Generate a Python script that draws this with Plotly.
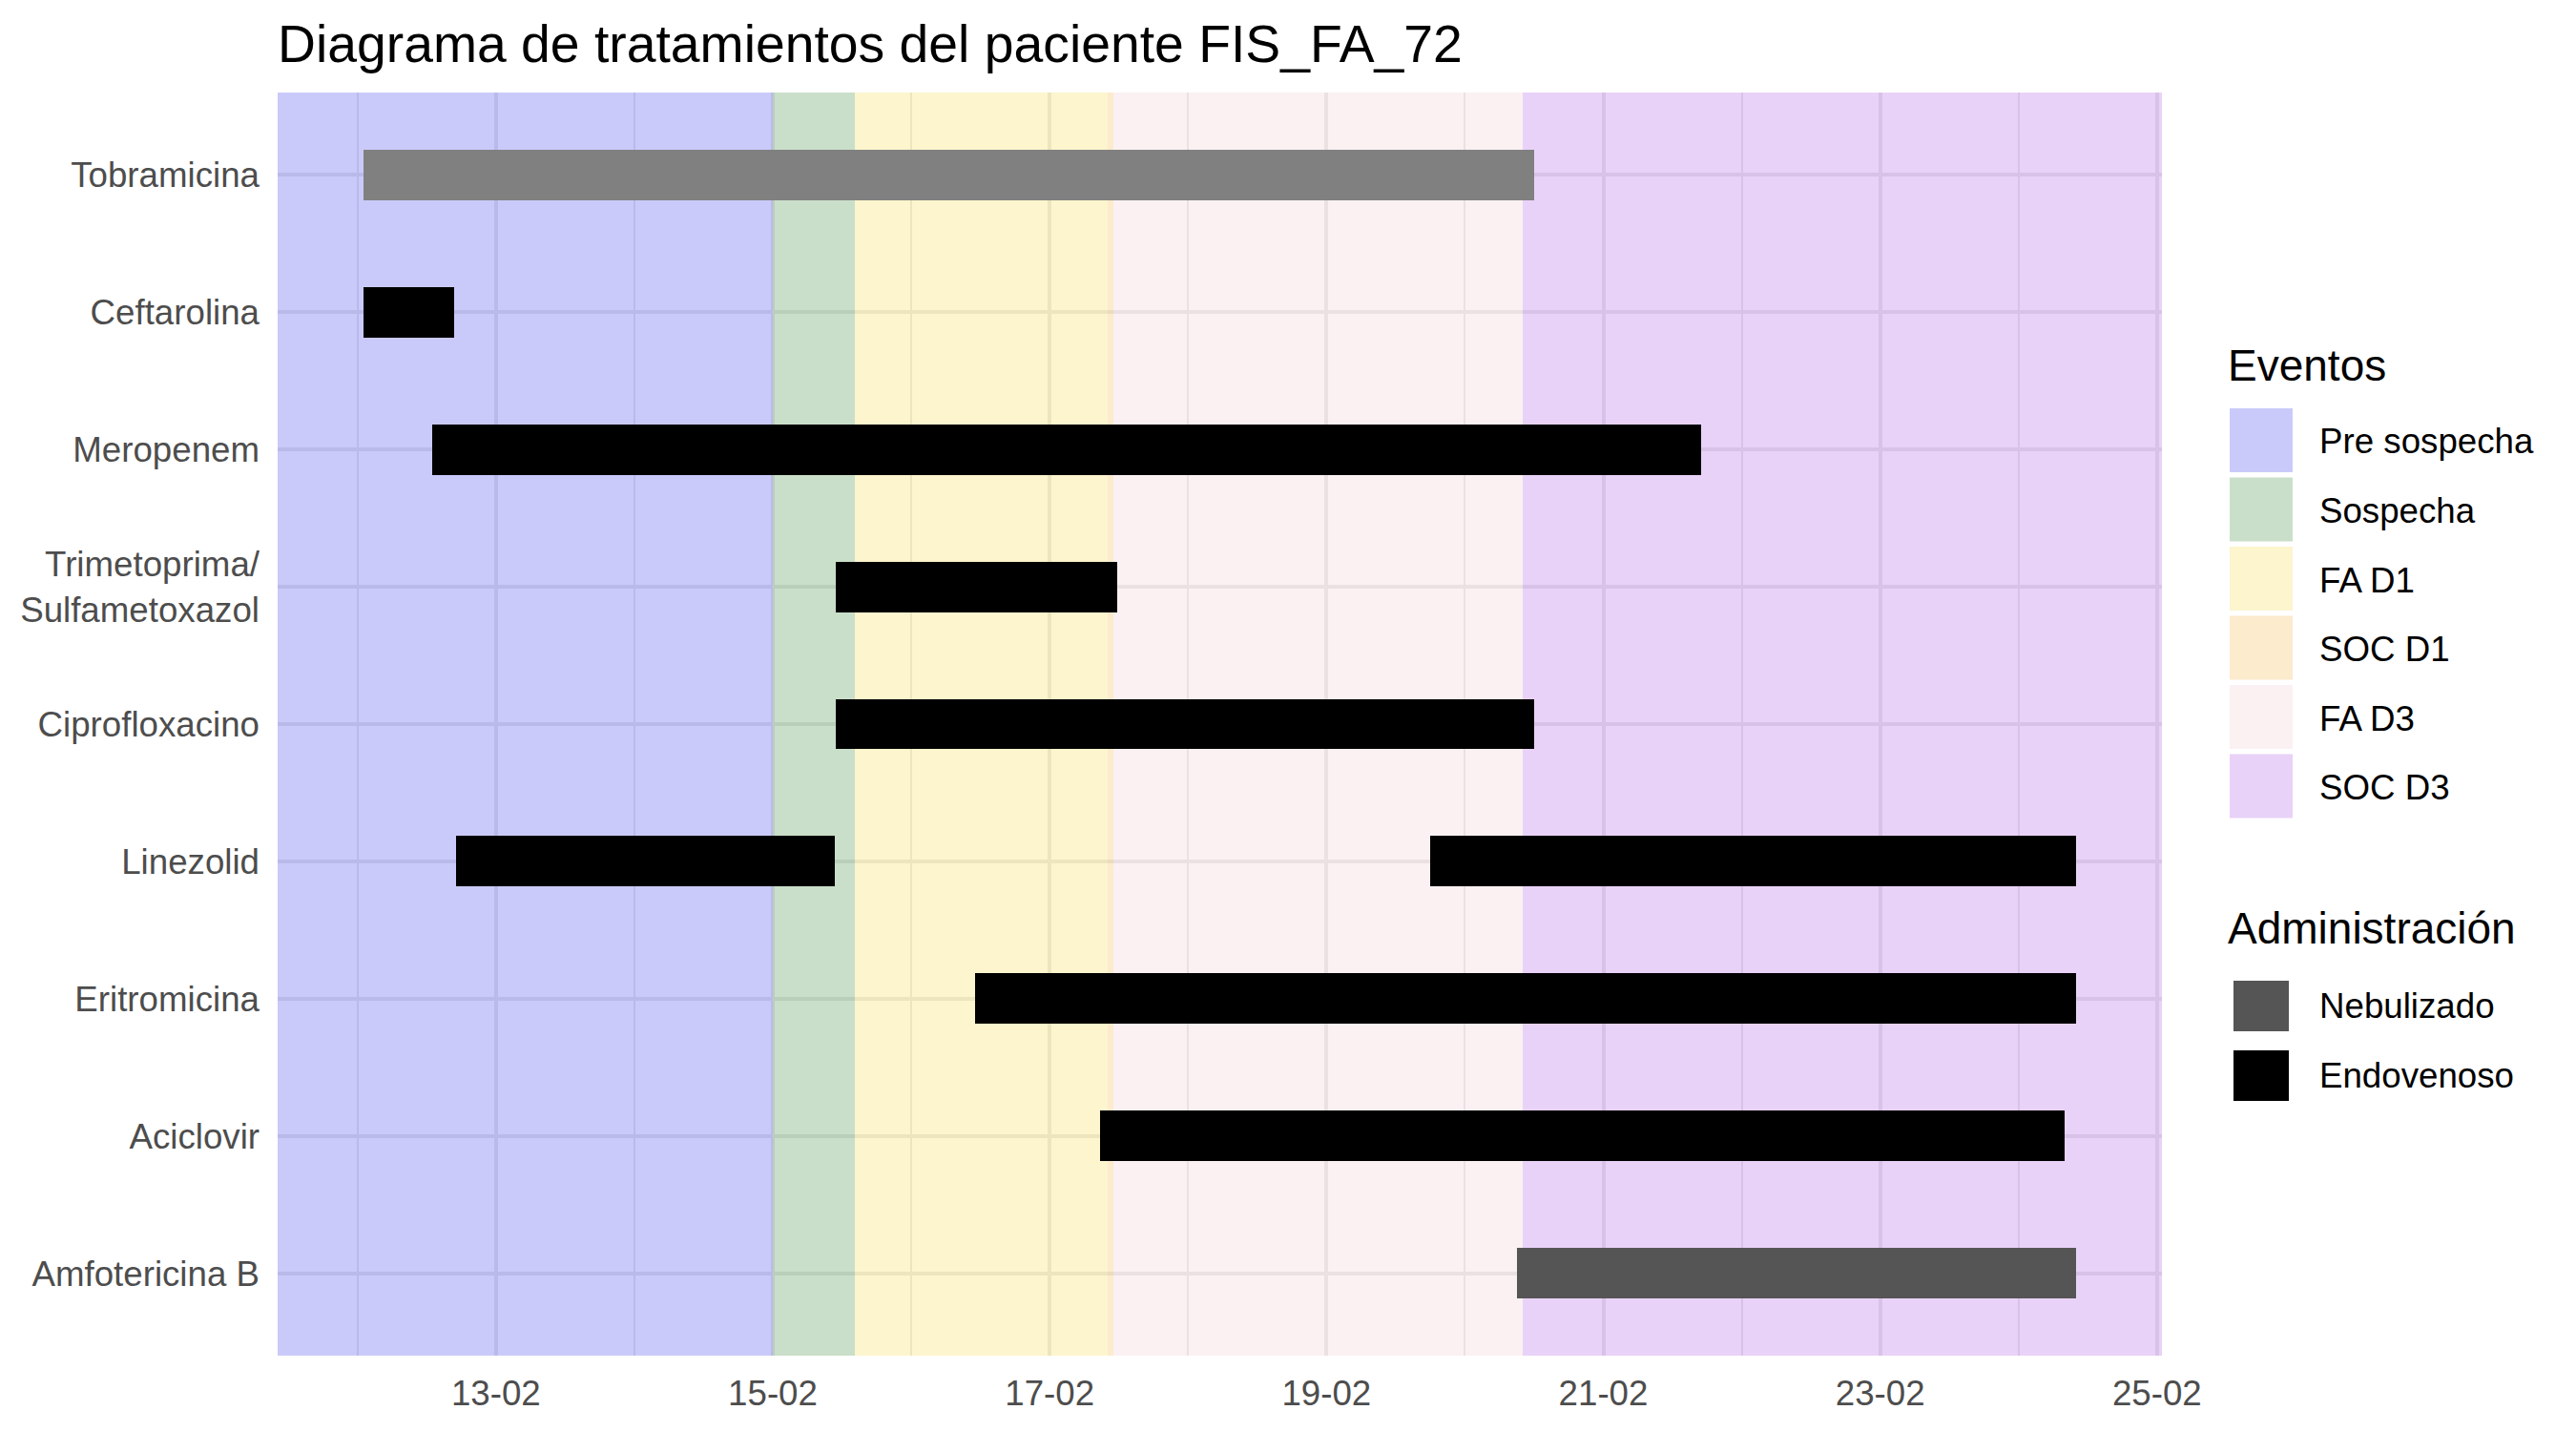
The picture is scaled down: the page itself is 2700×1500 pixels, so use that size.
import pandas as pd
import plotly.graph_objects as go

# ---------------- data ----------------
title_text = "Diagrama de tratamientos del paciente FIS_FA_72"

drugs = ["Tobramicina", "Ceftarolina", "Meropenem", "Trimetoprima/<br>Sulfametoxazol",
         "Ciprofloxacino", "Linezolid", "Eritromicina", "Aciclovir", "Amfotericina B"]

tr_drug = ["Tobramicina", "Ceftarolina", "Meropenem", "Trimetoprima/<br>Sulfametoxazol",
           "Ciprofloxacino", "Linezolid", "Linezolid", "Eritromicina", "Aciclovir", "Amfotericina B"]
tr_start = ["2024-02-12 01:00", "2024-02-12 01:00", "2024-02-12 13:00", "2024-02-15 11:00",
            "2024-02-15 11:00", "2024-02-12 17:00", "2024-02-19 18:00", "2024-02-16 11:00",
            "2024-02-17 08:45", "2024-02-20 09:00"]
tr_end = ["2024-02-20 12:00", "2024-02-12 16:45", "2024-02-21 17:00", "2024-02-17 11:45",
          "2024-02-20 12:00", "2024-02-15 10:45", "2024-02-24 10:00", "2024-02-24 10:00",
          "2024-02-24 08:00", "2024-02-24 10:00"]
tr_route = ["Nebulizado", "Endovenoso", "Endovenoso", "Endovenoso", "Endovenoso",
            "Endovenoso", "Endovenoso", "Endovenoso", "Endovenoso", "Nebulizado"]

route_names = ["Nebulizado", "Endovenoso"]
route_colors = ["#555555", "#000000"]
bar_color_override = {"Tobramicina": "#808080"}

event_names = ["Pre sospecha", "Sospecha", "FA D1", "SOC D1", "FA D3", "SOC D3"]
event_start = [None, "2024-02-15 00:00", "2024-02-15 14:15", "2024-02-17 10:00",
               "2024-02-17 11:00", "2024-02-20 10:00"]
event_end = ["2024-02-15 00:00", "2024-02-15 14:15", "2024-02-17 10:00", "2024-02-17 11:00",
             "2024-02-20 10:00", None]
event_colors = ["rgba(14,14,233,0.22)", "rgba(14,110,14,0.22)", "rgba(241,209,27,0.22)",
                "rgba(241,164,27,0.22)", "rgba(237,191,196,0.22)", "rgba(155,50,223,0.22)"]

x_tick_dates = ["2024-02-13", "2024-02-15", "2024-02-17", "2024-02-19",
                "2024-02-21", "2024-02-23", "2024-02-25"]
x_tick_labels = ["13-02", "15-02", "17-02", "19-02", "21-02", "23-02", "25-02"]
x_minor_dates = ["2024-02-12", "2024-02-14", "2024-02-16", "2024-02-18",
                 "2024-02-20", "2024-02-22", "2024-02-24"]

# ---------------- layout constants ----------------
FONT = "Liberation Sans, Arial, sans-serif"
W, H = 2700, 1500
ML, MR, MT, MB = 291, 434, 97, 79
PW, PH = W - ML - MR, H - MT - MB
AX_SIZE = 36.7
LEG_TITLE_SIZE = 46
TITLE_SIZE = 55.3
GRID = "#EBEBEB"


def fmt(t):
    return t.strftime("%Y-%m-%d %H:%M:%S")


starts = pd.to_datetime(pd.Series(tr_start))
ends = pd.to_datetime(pd.Series(tr_end))
t0, t1 = starts.min(), ends.max()
pad = (t1 - t0) * 0.05
x_lo, x_hi = t0 - pad, t1 + pad

fig = go.Figure()

# background event bands, spanning all categories
mid_cat = drugs[len(drugs) // 2]
band = (len(drugs) - 1) + 2 * 0.6
for name, s, e, c in zip(event_names, event_start, event_end, event_colors):
    s_t = pd.Timestamp(s) if s else x_lo
    e_t = pd.Timestamp(e) if e else x_hi
    fig.add_trace(go.Bar(
        orientation="h", y=[mid_cat], base=[fmt(s_t)],
        x=[(e_t - s_t).total_seconds() * 1000], width=[band],
        marker=dict(color=c, line=dict(width=0)), name=name,
        showlegend=False, hoverinfo="skip"))

# treatment bars
route_col = dict(zip(route_names, route_colors))
bar_cols = [bar_color_override.get(d, route_col[r]) for d, r in zip(tr_drug, tr_route)]
fig.add_trace(go.Bar(
    orientation="h", y=tr_drug, base=[fmt(t) for t in starts],
    x=[(e - s).total_seconds() * 1000 for s, e in zip(starts, ends)],
    width=[0.368] * len(tr_drug),
    marker=dict(color=bar_cols, line=dict(width=0)),
    showlegend=False, hoverinfo="skip"))


# ---------------- manual legend (ggplot-style keys) ----------------
def px_x(p):
    return (p - ML) / PW


def px_y(p):
    return (H - MB - p) / PH


shapes = []
annotations = []

annotations.append(dict(x=px_x(2333), y=px_y(383), xref="paper", yref="paper",
                        text="Eventos", showarrow=False, xanchor="left", yanchor="middle",
                        font=dict(size=LEG_TITLE_SIZE, color="black", family=FONT)))
for i, (name, c) in enumerate(zip(event_names, event_colors)):
    top = 428 + 72.5 * i
    shapes.append(dict(type="rect", xref="paper", yref="paper",
                       x0=px_x(2337), x1=px_x(2403), y0=px_y(top + 67), y1=px_y(top),
                       fillcolor=c, line=dict(width=0), layer="above"))
    annotations.append(dict(x=px_x(2429), y=px_y(top + 35), xref="paper", yref="paper",
                            text=name, showarrow=False, xanchor="left", yanchor="middle",
                            font=dict(size=AX_SIZE, color="black", family=FONT)))

annotations.append(dict(x=px_x(2333), y=px_y(973), xref="paper", yref="paper",
                        text="Administración", showarrow=False, xanchor="left", yanchor="middle",
                        font=dict(size=LEG_TITLE_SIZE, color="black", family=FONT)))
for i, (name, c) in enumerate(zip(route_names, route_colors)):
    top = 1028 + 73 * i
    shapes.append(dict(type="rect", xref="paper", yref="paper",
                       x0=px_x(2341), x1=px_x(2399), y0=px_y(top + 53), y1=px_y(top),
                       fillcolor=c, line=dict(width=0), layer="above"))
    annotations.append(dict(x=px_x(2429), y=px_y(top + 26), xref="paper", yref="paper",
                            text=name, showarrow=False, xanchor="left", yanchor="middle",
                            font=dict(size=AX_SIZE, color="black", family=FONT)))

fig.update_layout(
    width=W, height=H,
    margin=dict(l=ML, r=MR, t=MT, b=MB, pad=0),
    paper_bgcolor="white", plot_bgcolor="white",
    barmode="overlay", bargap=0,
    font=dict(family=FONT),
    title=dict(text=title_text, x=ML / W, xref="container", xanchor="left",
               y=1 - 46 / H, yref="container", yanchor="middle",
               font=dict(size=TITLE_SIZE, color="black", family=FONT)),
    xaxis=dict(type="date", range=[fmt(x_lo), fmt(x_hi)],
               tickmode="array", tickvals=x_tick_dates, ticktext=x_tick_labels,
               showgrid=True, gridcolor=GRID, gridwidth=4,
               minor=dict(tickmode="array", tickvals=x_minor_dates, showgrid=True,
                          gridcolor=GRID, gridwidth=2, ticks=""),
               ticks="", showline=False, zeroline=False, ticklabelstandoff=14,
               tickfont=dict(size=AX_SIZE, color="#4D4D4D", family=FONT)),
    yaxis=dict(type="category", categoryorder="array", categoryarray=drugs,
               range=[len(drugs) - 1 + 0.6, -0.6],
               showgrid=True, gridcolor=GRID, gridwidth=4,
               ticks="", showline=False, zeroline=False, ticklabelstandoff=18,
               tickfont=dict(size=AX_SIZE, color="#4D4D4D", family=FONT)),
    shapes=shapes, annotations=annotations,
)

fig.write_html("out.html", config={"displayModeBar": False})
